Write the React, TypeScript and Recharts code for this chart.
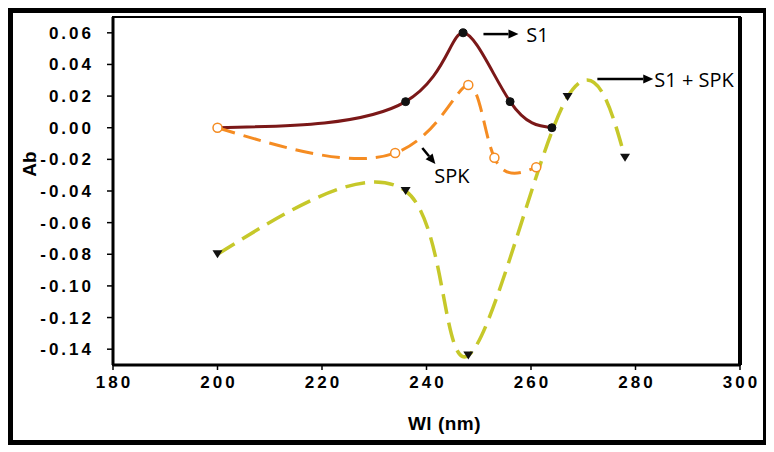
import React from 'react';
import { LineChart, Line, XAxis, YAxis, ReferenceArea, ReferenceLine, ReferenceDot, Label } from 'recharts';

// Wavelength (nm) and absorbance values
const s1Wavelength = [200, 236, 247, 256, 264];
const s1Absorbance = [0, 0.0165, 0.06, 0.0165, 0];
const spkWavelength = [200, 234, 248, 253, 261];
const spkAbsorbance = [0, -0.016, 0.027, -0.019, -0.025];
const mixWavelength = [200, 236, 248, 267, 278];
const mixAbsorbance = [-0.08, -0.04, -0.144, 0.0195, -0.019];

const xTicks = [180, 200, 220, 240, 260, 280, 300];
const yTicks = [0.06, 0.04, 0.02, 0, -0.02, -0.04, -0.06, -0.08, -0.1, -0.12, -0.14];

const calloutText = ['S1', 'SPK', 'S1 + SPK'];
const calloutArrowStart = [
  { x: 250.9, y: 0.0592 },
  { x: 239.2, y: -0.0128 },
  { x: 272.7, y: 0.0308 },
];
const calloutArrowEnd = [
  { x: 257.6, y: 0.0592 },
  { x: 241.7, y: -0.023 },
  { x: 283.4, y: 0.0308 },
];
const calloutTextAt = [
  { x: 259.1, y: 0.0592 },
  { x: 241.5, y: -0.0305 },
  { x: 283.6, y: 0.0304 },
];

const toPoints = (xs: number[], ys: number[]) => xs.map((x, i) => ({ wl: x, ab: ys[i] }));
const s1Data = toPoints(s1Wavelength, s1Absorbance);
const spkData = toPoints(spkWavelength, spkAbsorbance);
const mixData = toPoints(mixWavelength, mixAbsorbance);

const S1_COLOR = '#7B1818';
const SPK_COLOR = '#F58C22';
const MIX_COLOR = '#C6C82A';

// Smoothed curve: blend of natural-spline and Catmull-Rom tangents (Excel-like smoothing)
function splineDerivs(v: number[], alpha: number): number[] {
  const n = v.length;
  const M = new Array(n).fill(0);
  const m = n - 2;
  if (m > 0) {
    const cp = new Array(m).fill(0);
    const dp = new Array(m).fill(0);
    for (let k = 0; k < m; k++) {
      const i = k + 1;
      const rhs = 6 * (v[i + 1] - 2 * v[i] + v[i - 1]);
      const denom = 4 - (k > 0 ? cp[k - 1] : 0);
      cp[k] = 1 / denom;
      dp[k] = (rhs - (k > 0 ? dp[k - 1] : 0)) / denom;
    }
    for (let k = m - 1; k >= 0; k--) {
      M[k + 1] = dp[k] - cp[k] * (k < m - 1 ? M[k + 2] : 0);
    }
  }
  const nat: number[] = [];
  for (let i = 0; i < n - 1; i++) nat.push(v[i + 1] - v[i] - (2 * M[i] + M[i + 1]) / 6);
  nat.push(v[n - 1] - v[n - 2] + (M[n - 2] + 2 * M[n - 1]) / 6);
  const cr: number[] = new Array(n).fill(0);
  for (let i = 1; i < n - 1; i++) cr[i] = (v[i + 1] - v[i - 1]) / 2;
  cr[0] = n > 2 ? (3 * (v[1] - v[0]) - cr[1]) / 2 : v[1] - v[0];
  cr[n - 1] = n > 2 ? (3 * (v[n - 1] - v[n - 2]) - cr[n - 2]) / 2 : v[n - 1] - v[n - 2];
  return nat.map((d, i) => alpha * d + (1 - alpha) * cr[i]);
}

function makeSmoothCurve(alpha: number) {
  return function (context: any) {
    let xs: number[] = [];
    let ys: number[] = [];
    return {
      areaStart() {},
      areaEnd() {},
      lineStart() {
        xs = [];
        ys = [];
      },
      point(x: number, y: number) {
        xs.push(+x);
        ys.push(+y);
      },
      lineEnd() {
        const n = xs.length;
        if (n === 0) return;
        context.moveTo(xs[0], ys[0]);
        if (n === 1) return;
        if (n === 2) {
          context.lineTo(xs[1], ys[1]);
          return;
        }
        const dx = splineDerivs(xs, alpha);
        const dy = splineDerivs(ys, alpha);
        for (let i = 0; i < n - 1; i++) {
          context.bezierCurveTo(
            xs[i] + dx[i] / 3,
            ys[i] + dy[i] / 3,
            xs[i + 1] - dx[i + 1] / 3,
            ys[i + 1] - dy[i + 1] / 3,
            xs[i + 1],
            ys[i + 1]
          );
        }
      },
    };
  };
}

const naturalCurve = makeSmoothCurve(1);
const mixCurve = makeSmoothCurve(0.45);

const tickStyle = {
  fill: '#000',
  fontSize: 17,
  fontWeight: 'bold' as const,
  fontFamily: '"Liberation Sans", Arial, sans-serif',
  letterSpacing: 3,
};

const BlackDot = (p: any) => (
  <circle key={`s1-${p.index}`} cx={p.cx} cy={p.cy} r={4} fill="#111" stroke="#111" strokeWidth={1} />
);
const OpenDot = (p: any) => (
  <circle key={`spk-${p.index}`} cx={p.cx} cy={p.cy} r={4.5} fill="#fff" stroke={SPK_COLOR} strokeWidth={1.5} />
);
const TriDot = (p: any) => (
  <polygon
    key={`mix-${p.index}`}
    points={`${p.cx - 5},${p.cy - 4} ${p.cx + 5},${p.cy - 4} ${p.cx},${p.cy + 4}`}
    fill="#111"
  />
);

const Arrow = (p: any) => {
  const { x1, y1, x2, y2 } = p;
  const ang = Math.atan2(y2 - y1, x2 - x1);
  const len = 10;
  const w = 4.5;
  const bx = x2 - len * Math.cos(ang);
  const by = y2 - len * Math.sin(ang);
  const nx = -Math.sin(ang) * w;
  const ny = Math.cos(ang) * w;
  return (
    <g>
      <line x1={x1} y1={y1} x2={bx} y2={by} stroke="#000" strokeWidth={2.5} />
      <polygon points={`${x2},${y2} ${bx + nx},${by + ny} ${bx - nx},${by - ny}`} fill="#000" />
    </g>
  );
};

const calloutTextShape = (label: string) => (p: any) => (
  <text
    x={p.cx}
    y={p.cy}
    dominantBaseline="central"
    textAnchor="start"
    fontFamily='"Open Sans", sans-serif'
    fontSize={20}
    fill="#000"
  >
    {label}
  </text>
);

const YTitle = (props: any) => {
  const vb = props.viewBox || { x: 0, y: 4, width: 100, height: 348 };
  const cx = vb.x + 16;
  const cy = vb.y + vb.height / 2 - 27;
  return (
    <text
      x={cx}
      y={cy}
      transform={`rotate(-90 ${cx} ${cy})`}
      textAnchor="middle"
      dominantBaseline="central"
      fontFamily='"Liberation Sans", Arial, sans-serif'
      fontWeight="bold"
      fontSize={19}
      fill="#000"
    >
      Ab
    </text>
  );
};

const XTitle = (props: any) => {
  const vb = props.viewBox || { x: 100, y: 352, width: 627, height: 75 };
  const cx = vb.x + vb.width / 2 + 18;
  const cy = vb.y + 58;
  return (
    <text
      x={cx}
      y={cy}
      textAnchor="middle"
      dominantBaseline="central"
      fontFamily='"Liberation Sans", Arial, sans-serif'
      fontWeight="bold"
      fontSize={19}
      letterSpacing={0.5}
      fill="#000"
    >
      Wl (nm)
    </text>
  );
};

export default function App() {
  return (
    <div
      style={{
        width: 750,
        height: 427,
        border: '5px solid #000',
        background: '#fff',
      }}
    >
      <LineChart width={750} height={427} margin={{ top: 4, right: 23, bottom: 0, left: 0 }}>
        <XAxis
          dataKey="wl"
          type="number"
          domain={[180, 300]}
          ticks={xTicks}
          allowDataOverflow
          height={75}
          tickSize={5}
          tickMargin={6}
          stroke="#000"
          strokeWidth={3}
          tickLine={{ stroke: '#000', strokeWidth: 1.5 }}
          tick={{ ...tickStyle, dx: 1.5 }}
        >
          <Label content={<XTitle />} />
        </XAxis>
        <YAxis
          type="number"
          domain={[-0.15, 0.07]}
          ticks={yTicks}
          allowDataOverflow
          width={100}
          tickSize={6}
          tickMargin={13}
          stroke="#000"
          strokeWidth={3}
          tickLine={{ stroke: '#000', strokeWidth: 1.5 }}
          tick={tickStyle}
          tickFormatter={(v: number) => v.toFixed(2)}
        >
          <Label content={<YTitle />} />
        </YAxis>
        <ReferenceArea
          x1={180}
          x2={300}
          y1={-0.15}
          y2={0.07}
          fill="none"
          fillOpacity={0}
          stroke="#000"
          strokeWidth={2}
          ifOverflow="visible"
        />
        <ReferenceLine x={300} stroke="#000" strokeWidth={4} ifOverflow="visible" />
        <Line
          name={calloutText[2]}
          data={mixData}
          dataKey="ab"
          type={mixCurve as any}
          stroke={MIX_COLOR}
          strokeWidth={3.5}
          strokeDasharray="20 9"
          dot={TriDot}
          activeDot={false}
          isAnimationActive={false}
        />
        <Line
          name={calloutText[0]}
          data={s1Data}
          dataKey="ab"
          type={naturalCurve as any}
          stroke={S1_COLOR}
          strokeWidth={3}
          dot={BlackDot}
          activeDot={false}
          isAnimationActive={false}
        />
        <Line
          name={calloutText[1]}
          data={spkData}
          dataKey="ab"
          type={naturalCurve as any}
          stroke={SPK_COLOR}
          strokeWidth={3}
          strokeDasharray="18 9"
          dot={OpenDot}
          activeDot={false}
          isAnimationActive={false}
        />
        {calloutText.map((t, i) => (
          <ReferenceLine
            key={`arrow-${i}`}
            segment={[calloutArrowStart[i], calloutArrowEnd[i]]}
            shape={Arrow}
            ifOverflow="visible"
          />
        ))}
        {calloutText.map((t, i) => (
          <ReferenceDot
            key={`text-${i}`}
            x={calloutTextAt[i].x}
            y={calloutTextAt[i].y}
            r={0}
            shape={calloutTextShape(t)}
            ifOverflow="visible"
          />
        ))}
      </LineChart>
    </div>
  );
}
